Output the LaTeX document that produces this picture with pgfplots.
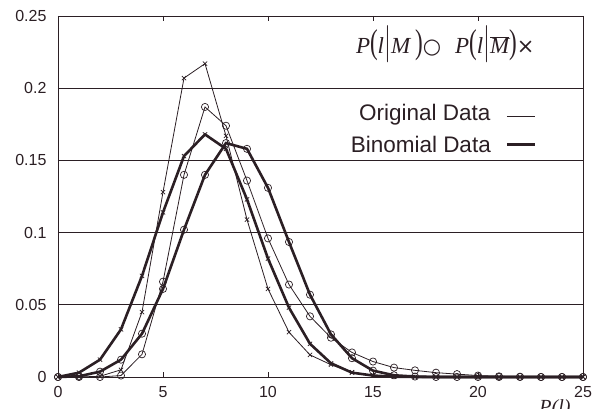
\documentclass[border=0pt]{standalone}
\usepackage{fontspec}
\setmainfont{Liberation Sans}
\newfontfamily\symfont{DejaVu Sans}
\newfontfamily\timesfont{Liberation Serif}
\usepackage{pgfplots}
\pgfplotsset{compat=1.18}
\definecolor{ink}{HTML}{2B1F24}

% data: l, P(l|M), P(l|Mbar)
\pgfplotstableread{
l  origM   origMbar binM    binMbar
0  0.0000  0.0000   0.0000  0.0000
1  0.0000  0.0000   0.0005  0.0030
2  0.0000  0.0005   0.0037  0.0120
3  0.0010  0.0050   0.0120  0.0330
4  0.0157  0.0450   0.0300  0.0700
5  0.0660  0.1280   0.0610  0.1140
6  0.1400  0.2070   0.1020  0.1530
7  0.1870  0.2170   0.1400  0.1680
8  0.1740  0.1670   0.1620  0.1580
9  0.1360  0.1090   0.1580  0.1230
10 0.0960  0.0610   0.1310  0.0820
11 0.0640  0.0310   0.0935  0.0480
12 0.0420  0.0153   0.0570  0.0230
13 0.0272  0.0085   0.0295  0.0095
14 0.0170  0.0033   0.0130  0.0030
15 0.0107  0.0010   0.0044  0.0010
16 0.0065  0.0002   0.0012  0.0002
17 0.0046  0.0000   0.0003  0.0000
18 0.0030  0.0000   0.0000  0.0000
19 0.0020  0.0000   0.0000  0.0000
20 0.0010  0.0000   0.0000  0.0000
21 0.0005  0.0000   0.0000  0.0000
22 0.0002  0.0000   0.0000  0.0000
23 0.0000  0.0000   0.0000  0.0000
24 0.0000  0.0000   0.0000  0.0000
25 0.0000  0.0000   0.0000  0.0000
}\datatable

\newcommand{\bigpar}[1]{\scalebox{1}[1.5]{#1}}

\begin{document}
\begin{tikzpicture}[x=1pt,y=1pt]
\begin{axis}[
    scale only axis,
    width=525pt, height=361pt,
    at={(0,0)}, anchor=south west,
    xmin=0, xmax=25, ymin=0, ymax=0.25,
    xtick={0,5,...,25},
    ytick={0,0.05,...,0.25},
    yticklabels={0,0.05,0.1,0.15,0.2,0.25},
    tick align=inside,
    xtick pos=both,
    ytick style={draw=none},
    ymajorgrids,
    grid style={ink, line width=0.8pt},
    axis line style={ink, line width=0.9pt},
    tick style={ink, line width=0.7pt, major tick length=5pt},
    /pgf/number format/assume math mode=true,
    xticklabel style={font=\fontsize{16}{17}\selectfont, text=ink, yshift=-6pt},
    yticklabel style={font=\fontsize{16}{17}\selectfont, text=ink, xshift=-8pt},
    clip=false,
]
% original data, thin
\addplot[ink, line width=0.8pt, mark=o, mark size=3.6pt,
    mark options={line width=0.7pt}] table[x=l, y=origM] {\datatable};
\addplot[ink, line width=0.8pt, mark=x, mark size=3pt,
    mark options={line width=0.7pt}] table[x=l, y=origMbar] {\datatable};
% binomial data, thick
\addplot[ink, line width=2.6pt, mark=o, mark size=3.6pt,
    mark options={line width=0.7pt}] table[x=l, y=binM] {\datatable};
\addplot[ink, line width=2.6pt, mark=x, mark size=3pt,
    mark options={line width=0.7pt}] table[x=l, y=binMbar] {\datatable};

% legend
\node[anchor=east, text=ink, font=\fontsize{23}{24}\timesfont, inner sep=0pt]
    at (axis cs:22.70,0.2306)
    {\textit{P}\bigpar{(}\textit{l}\bigpar{$|$}\textit{M}\,\bigpar{)}{\symfont\fontsize{21}{22}\selectfont ○}\hspace{14pt}%
     \textit{P}\bigpar{(}\textit{l}\bigpar{$|$}$\overline{\textit{M}}$\bigpar{)}{\symfont\fontsize{21}{22}\selectfont ×}};
\node[anchor=east, text=ink, font=\fontsize{22.5}{24}\selectfont, inner sep=0pt]
    at (axis cs:20.60,0.1820) {Original Data};
\node[anchor=east, text=ink, font=\fontsize{22.5}{24}\selectfont, inner sep=0pt]
    at (axis cs:20.62,0.1611) {Binomial Data};
\draw[ink, line width=0.8pt] (axis cs:21.38,0.1806) -- (axis cs:22.71,0.1806);
\draw[ink, line width=2.6pt] (axis cs:21.38,0.1611) -- (axis cs:22.71,0.1611);
\end{axis}
% axis label, cut off at the bottom as in the source
\node[text=ink, font=\fontsize{20}{22}\timesfont\itshape, anchor=north] at (497pt,-19pt) {P(l)};
\pgfresetboundingbox
\path[use as bounding box] (-58pt,-32pt) rectangle (534pt,377pt);
\end{tikzpicture}
\end{document}
